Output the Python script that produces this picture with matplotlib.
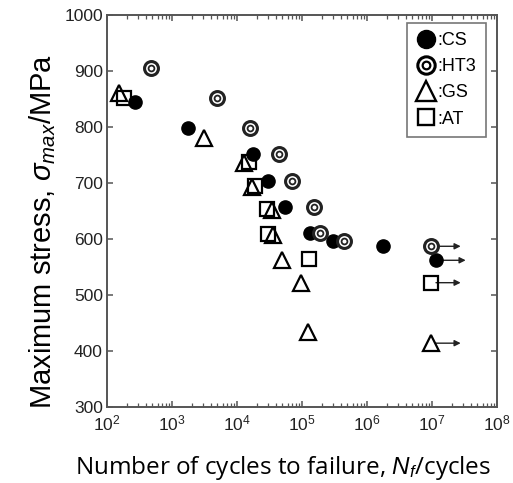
import numpy as np
import matplotlib
matplotlib.use("Agg")
import matplotlib.pyplot as plt
from matplotlib.lines import Line2D
from matplotlib.ticker import LogLocator, MultipleLocator, NullFormatter

plt.rcParams['font.family'] = ['Liberation Sans', 'DejaVu Sans']
plt.rcParams['mathtext.fontset'] = 'custom'
plt.rcParams['mathtext.rm'] = 'Liberation Sans'
plt.rcParams['mathtext.it'] = 'Liberation Sans:italic'

# data
cs_n = [270, 1740, 17800, 29500, 55000, 131000, 302000, 1.77e6, 1.17e7]
cs_s = [845, 799, 752, 704, 657, 610, 597, 587, 562]
ht3_n = [470, 5000, 15800, 44600, 70600, 155000, 190000, 444000, 9.8e6]
ht3_s = [905, 852, 799, 752, 704, 658, 611, 597, 587]
gs_n = [153, 3150, 12900, 17300, 34000, 36400, 50000, 95800, 125000, 9.8e6]
gs_s = [860, 780, 735, 693, 652, 607, 562, 521, 434, 414]
at_n = [185, 15200, 18600, 29300, 30000, 129000, 9.8e6]
at_s = [851, 738, 695, 653, 609, 564, 522]
# run-outs (arrows)
ro_n = [9.8e6, 1.17e7, 9.8e6, 9.8e6]
ro_s = [587, 562, 522, 414]

fig = plt.figure(figsize=(5.13, 4.83), dpi=100)
ax = fig.add_axes([0.2086, 0.1573, 0.7602, 0.8117])

mew = 1.6
ax.plot(gs_n, gs_s, ls='none', marker='^', ms=11, mfc='none', mec='black', mew=mew, zorder=3)
ax.plot(at_n, at_s, ls='none', marker='s', ms=10.5, mfc='none', mec='black', mew=mew, zorder=3)
ax.plot(cs_n, cs_s, ls='none', marker='o', ms=9.5, mfc='black', mec='black', zorder=4)
ax.plot(ht3_n, ht3_s, ls='none', marker='o', ms=10, mfc='white', mec='#222222', mew=2.2, zorder=5)
ax.plot(ht3_n, ht3_s, ls='none', marker='o', ms=4.2, mfc='white', mec='#222222', mew=1.3, zorder=6)

for n, s in zip(ro_n, ro_s):
    ax.annotate('', xy=(n * 10 ** 0.45, s), xytext=(n * 10 ** 0.07, s),
                arrowprops=dict(arrowstyle='-|>', color='#222222', lw=1.0,
                                mutation_scale=9, shrinkA=0, shrinkB=0), zorder=2)

ax.set_xscale('log')
ax.set_xlim(1e2, 1e8)
ax.set_ylim(300, 1000)
ax.yaxis.set_major_locator(MultipleLocator(100))
ax.xaxis.set_major_locator(LogLocator(base=10, numticks=10))
ax.xaxis.set_minor_locator(LogLocator(base=10, subs=np.arange(2, 10), numticks=20))
ax.xaxis.set_minor_formatter(NullFormatter())

for sp in ax.spines.values():
    sp.set_color('#555555')
    sp.set_linewidth(1.4)
ax.tick_params(which='both', direction='in', top=True, right=True, colors='#555555',
               labelcolor='#222222', labelsize=12.5)
ax.tick_params(which='major', length=4.5, width=1.1)
ax.tick_params(which='minor', length=3, width=0.9)
ax.tick_params(axis='x', pad=5)
ax.tick_params(axis='y', pad=3)

fig.text(0.084, 0.52, r'Maximum stress, $\sigma_{max}$/MPa', rotation=90,
         ha='center', va='center', fontsize=21)
fig.text(0.552, 0.031, r'Number of cycles to failure, $N_f$/cycles', ha='center', va='center',
         fontsize=17.5, family=['Open Sans', 'DejaVu Sans'])

h_cs = Line2D([], [], ls='none', marker='o', ms=13, mfc='black', mec='black')
h_ht_o = Line2D([], [], ls='none', marker='o', ms=12.5, mfc='white', mec='black', mew=2.2)
h_ht_i = Line2D([], [], ls='none', marker='o', ms=5.5, mfc='white', mec='black', mew=1.6)
h_gs = Line2D([], [], ls='none', marker='^', ms=14, mfc='none', mec='black', mew=1.7)
h_at = Line2D([], [], ls='none', marker='s', ms=12, mfc='none', mec='black', mew=1.7)
leg = ax.legend([h_cs, (h_ht_o, h_ht_i), h_gs, h_at], [':CS', ':HT3', ':GS', ':AT'],
                loc='upper right', bbox_to_anchor=(0.982, 0.99), fontsize=13,
                handlelength=1.0, handletextpad=0.15, labelspacing=0.5,
                borderpad=0.55, borderaxespad=0.2, fancybox=False, framealpha=1,
                edgecolor='#777777')
leg.get_frame().set_linewidth(1.2)

fig.savefig('out.png', dpi=100)
